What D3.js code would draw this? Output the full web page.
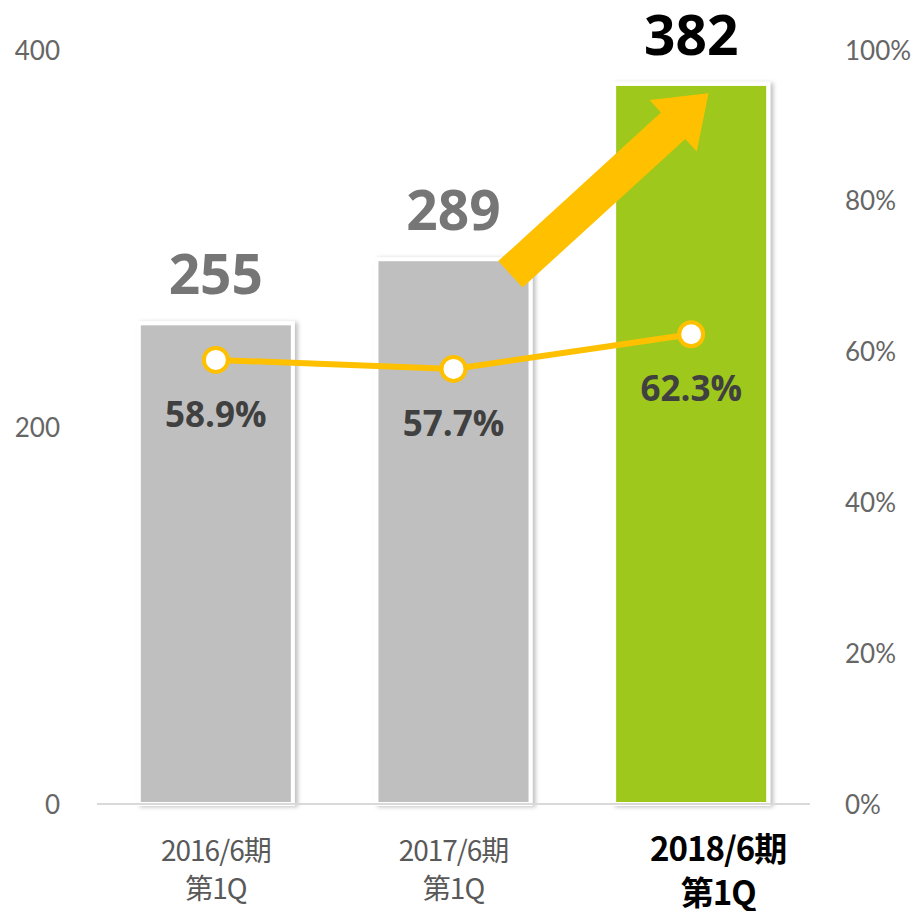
<!DOCTYPE html>
<html>
<head>
<meta charset="utf-8">
<script src="https://cdn.jsdelivr.net/npm/d3@7"></script>
<style>
  body { margin: 0; background: #fff; }
  svg { display: block; }
</style>
</head>
<body>
<svg id="chart" width="914" height="911"></svg>
<script>
// ==================== Data ====================
var categoriesTop = ["2016/6期", "2017/6期", "2018/6期"];
var categoriesBottom = ["第1Q", "第1Q", "第1Q"];
var barValues = [255, 289, 382];
var ratioValues = [58.9, 57.7, 62.3];
var leftTicks = [0, 200, 400];
var rightTicks = [0, 20, 40, 60, 80, 100];
var barColors = ["#bfbfbf", "#bfbfbf", "#9ec81a"];
// arrow annotation: from [category, value] to [category, value]
var arrowFrom = [1, 281];
var arrowTo = [2, 377];

var margin = { top: 50, right: 104, bottom: 107, left: 97 };
var width = 914, height = 911;
var innerWidth = width - margin.left - margin.right;
var innerHeight = height - margin.top - margin.bottom;

var svg = d3.select("#chart");

// ==================== Filter for the bar shadow ====================
var defs = svg.append("defs");
defs.append("filter")
  .attr("id", "shadow")
  .attr("x", "-10%").attr("y", "-10%")
  .attr("width", "130%").attr("height", "120%")
  .append("feDropShadow")
  .attr("dx", 3).attr("dy", 1)
  .attr("stdDeviation", 2)
  .attr("flood-color", "#000")
  .attr("flood-opacity", 0.25);

var g = svg.append("g")
  .attr("transform", `translate(${margin.left},${margin.top})`);

// ==================== Scales ====================
var x = d3.scaleBand()
  .domain(d3.range(categoriesTop.length))
  .range([0, innerWidth])
  .paddingInner(0.335)
  .paddingOuter(0.1675);

var y = d3.scaleLinear().domain([0, 400]).range([innerHeight, 0]);
var y2 = d3.scaleLinear().domain([0, 100]).range([innerHeight, 0]);

// ==================== Axes ====================
g.append("g")
  .attr("transform", "translate(-37,0)")
  .call(d3.axisLeft(y).tickValues(leftTicks).tickSize(0).tickPadding(0))
  .call(a => a.select(".domain").remove())
  .call(a => a.selectAll("text")
    .attr("fill", "#666")
    .style("font-family", "Lato, 'Open Sans', sans-serif")
    .style("font-size", "26px")
    .attr("dy", "0.35em"));

g.append("g")
  .attr("transform", `translate(${innerWidth + 35},0)`)
  .call(d3.axisRight(y2).tickValues(rightTicks).tickFormat(d => d + "%").tickSize(0).tickPadding(0))
  .call(a => a.select(".domain").remove())
  .call(a => a.selectAll("text")
    .attr("fill", "#666")
    .style("font-family", "Lato, 'Open Sans', sans-serif")
    .style("font-size", "26px")
    .attr("dy", "0.35em"));

// ==================== Bars ====================
g.selectAll("rect.bar")
  .data(barValues)
  .join("rect")
  .attr("class", "bar")
  .attr("x", (d, i) => x(i) + 2)
  .attr("width", x.bandwidth() - 4)
  .attr("y", d => y(d))
  .attr("height", d => innerHeight - y(d))
  .attr("fill", (d, i) => barColors[i])
  .attr("stroke", "#fff")
  .attr("stroke-width", 4)
  .attr("filter", "url(#shadow)");

// baseline
g.append("line")
  .attr("x1", 0).attr("x2", innerWidth)
  .attr("y1", innerHeight).attr("y2", innerHeight)
  .attr("stroke", "#d9d9d9")
  .attr("stroke-width", 2);

// bar value labels
g.selectAll("text.value")
  .data(barValues)
  .join("text")
  .attr("class", "value")
  .attr("x", (d, i) => x(i) + x.bandwidth() / 2)
  .attr("y", d => y(d) - 29)
  .attr("text-anchor", "middle")
  .style("font-family", "'Open Sans', sans-serif")
  .style("font-weight", "bold")
  .style("font-size", "55px")
  .attr("fill", (d, i) => i === 2 ? "#000" : "#767676")
  .text(d => d);

// ==================== Arrow ====================
var ax1 = x(arrowFrom[0]) + x.bandwidth() * 0.86, ay1 = y(arrowFrom[1]);
var ax2 = x(arrowTo[0]) + x.bandwidth() * 0.61, ay2 = y(arrowTo[1]);
var ang = Math.atan2(ay2 - ay1, ax2 - ax1);
var len = Math.hypot(ax2 - ax1, ay2 - ay1);
var shaftW = 36, headW = 70, headL = 48;
var arrowPts = [
  [0, -shaftW / 2], [len - headL, -shaftW / 2], [len - headL, -headW / 2],
  [len, 0],
  [len - headL, headW / 2], [len - headL, shaftW / 2], [0, shaftW / 2]
];
g.append("polygon")
  .attr("points", arrowPts.map(p => p.join(",")).join(" "))
  .attr("transform", `translate(${ax1},${ay1}) rotate(${ang * 180 / Math.PI})`)
  .attr("fill", "#ffc000");

// ==================== Ratio line ====================
var line = d3.line()
  .x((d, i) => x(i) + x.bandwidth() / 2)
  .y(d => y2(d));

g.append("path")
  .datum(ratioValues)
  .attr("d", line)
  .attr("fill", "none")
  .attr("stroke", "#ffc000")
  .attr("stroke-width", 6);

g.selectAll("circle.dot")
  .data(ratioValues)
  .join("circle")
  .attr("class", "dot")
  .attr("cx", (d, i) => x(i) + x.bandwidth() / 2)
  .attr("cy", d => y2(d))
  .attr("r", 12)
  .attr("fill", "#fff")
  .attr("stroke", "#ffc000")
  .attr("stroke-width", 4);

g.selectAll("text.ratio")
  .data(ratioValues)
  .join("text")
  .attr("class", "ratio")
  .attr("x", (d, i) => x(i) + x.bandwidth() / 2)
  .attr("y", d => y2(d) + 67)
  .attr("text-anchor", "middle")
  .style("font-family", "'Open Sans', sans-serif")
  .style("font-weight", "bold")
  .style("font-size", "35px")
  .attr("fill", "#404040")
  .text(d => d.toFixed(1) + "%");

// ==================== Category labels ====================
// the highlighted (last) label sits a bit to the right of its bar
var cats = g.selectAll("g.cat")
  .data(categoriesTop)
  .join("g")
  .attr("class", "cat")
  .attr("transform", (d, i) => `translate(${x(i) + x.bandwidth() / 2 + (i === 2 ? 27 : 0)},${innerHeight})`);

cats.append("text")
  .attr("y", 57)
  .attr("text-anchor", "middle")
  .style("font-family", "'Noto Sans CJK JP', sans-serif")
  .style("font-size", (d, i) => i === 2 ? "33px" : "28px")
  .style("font-weight", (d, i) => i === 2 ? "bold" : "normal")
  .style("letter-spacing", "-1px")
  .attr("fill", (d, i) => i === 2 ? "#000" : "#595959")
  .text(d => d);

cats.append("text")
  .attr("y", (d, i) => i === 2 ? 101 : 95)
  .attr("text-anchor", "middle")
  .style("font-family", "'Noto Sans CJK JP', sans-serif")
  .style("font-size", (d, i) => i === 2 ? "33px" : "28px")
  .style("font-weight", (d, i) => i === 2 ? "bold" : "normal")
  .style("letter-spacing", "-1px")
  .attr("fill", (d, i) => i === 2 ? "#000" : "#595959")
  .text((d, i) => categoriesBottom[i]);
</script>
</body>
</html>
